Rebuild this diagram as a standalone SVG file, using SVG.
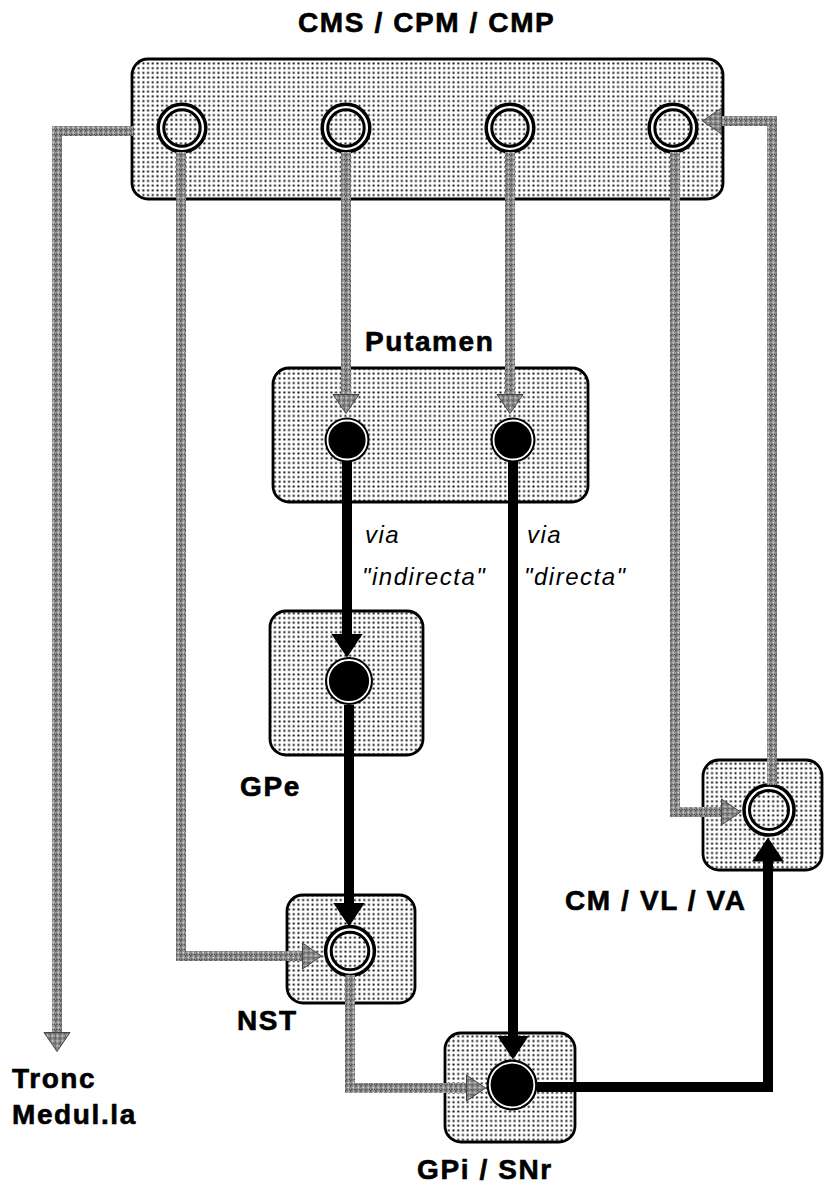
<svg xmlns="http://www.w3.org/2000/svg" width="825" height="1184" viewBox="0 0 825 1184">
<defs>
<pattern id="dots" patternUnits="userSpaceOnUse" width="4.7" height="4.7">
<rect width="4.7" height="4.7" fill="#ffffff"/>
<rect x="1.4" y="1.4" width="1.9" height="1.9" fill="#000"/>
</pattern>
<pattern id="grain" patternUnits="userSpaceOnUse" width="5" height="5">
<rect width="5" height="5" fill="#8e8e8e"/>
<rect x="0" y="0" width="1.5" height="1.5" fill="#4a4a4a"/>
<rect x="2.5" y="2" width="1.5" height="1.5" fill="#d4d4d4"/>
<rect x="1" y="3.5" width="1.5" height="1.5" fill="#5a5a5a"/>
<rect x="3.5" y="0.5" width="1" height="1" fill="#c4c4c4"/>
<rect x="4" y="4" width="1" height="1" fill="#444"/>
</pattern>
<marker id="arrBlack" markerUnits="userSpaceOnUse" viewBox="0 0 24 32" refX="0.5" refY="16" markerWidth="24" markerHeight="32" orient="auto">
<path d="M0,0 L24,16 L0,32 Z" fill="#000"/>
</marker>
<marker id="arrGray" markerUnits="userSpaceOnUse" viewBox="-1 -1 22 28" refX="0.5" refY="13" markerWidth="22" markerHeight="28" orient="auto">
<path d="M0,0 L19,13 L0,26 Z" fill="url(#grain)" stroke="#444" stroke-width="1"/>
</marker>
</defs>
<style>
.box{fill:url(#dots);stroke:#000;stroke-width:2.8}
.lbl{font-family:"Liberation Sans",Arial,Helvetica,sans-serif;font-weight:bold;font-size:28px;letter-spacing:1.6px;fill:#000;stroke:#000;stroke-width:0.6}
.via{font-family:"Liberation Sans",Arial,Helvetica,sans-serif;font-style:italic;font-size:24px;letter-spacing:1.5px;fill:#000}
.ringO{fill:none;stroke:#000;stroke-width:3.5}
.ringW{fill:none;stroke:#fff;stroke-width:3}
.ringI{fill:none;stroke:#000;stroke-width:3}
.fillC{fill:#000}
.fillW{fill:none;stroke:#fff;stroke-width:1.8}
.gray{fill:none;stroke:url(#grain);stroke-width:10;stroke-linejoin:miter;marker-end:url(#arrGray)}
.black{fill:none;stroke:#000;stroke-width:10;stroke-linejoin:miter;marker-end:url(#arrBlack)}
</style>
<rect width="825" height="1184" fill="#ffffff"/>

<g id="cortex">
<rect class="box" x="132" y="59" width="591" height="140" rx="16"/>
<g transform="translate(182,128)"><circle class="ringW" r="21"/><circle class="ringO" r="23.8"/><circle class="ringI" r="18.2"/></g>
<g transform="translate(346,128)"><circle class="ringW" r="21"/><circle class="ringO" r="23.8"/><circle class="ringI" r="18.2"/></g>
<g transform="translate(510,128)"><circle class="ringW" r="21"/><circle class="ringO" r="23.8"/><circle class="ringI" r="18.2"/></g>
<g transform="translate(673,128)"><circle class="ringW" r="21"/><circle class="ringO" r="23.8"/><circle class="ringI" r="18.2"/></g>
<text class="lbl" x="298" y="32">CMS / CPM / CMP</text>
</g>

<g id="putamen">
<rect class="box" x="273" y="368" width="315" height="134" rx="16"/>
<circle class="fillC" cx="347" cy="440" r="22.5"/><circle class="fillW" cx="347" cy="440" r="19.5"/>
<circle class="fillC" cx="513" cy="440" r="22.5"/><circle class="fillW" cx="513" cy="440" r="19.5"/>
<text class="lbl" x="365" y="351">Putamen</text>
</g>

<g id="gpe">
<rect class="box" x="270" y="611" width="153" height="144" rx="16"/>
<circle class="fillC" cx="349" cy="681" r="24"/><circle class="fillW" cx="349" cy="681" r="21"/>
<text class="lbl" x="240" y="796">GPe</text>
</g>

<g id="nst">
<rect class="box" x="287" y="895" width="128" height="108" rx="16"/>
<g transform="translate(350,951)"><circle class="ringW" r="21.6"/><circle class="ringO" r="24.4"/><circle class="ringI" r="18.8"/></g>
<text class="lbl" x="237" y="1030">NST</text>
</g>

<g id="gpi">
<rect class="box" x="445" y="1033" width="130" height="109" rx="16"/>
<circle class="fillC" cx="512" cy="1085" r="25.5"/><circle class="fillW" cx="512" cy="1085" r="22.3"/>
<text class="lbl" x="417" y="1179">GPi / SNr</text>
</g>

<g id="thalamus">
<rect class="box" x="703" y="760" width="119" height="110" rx="16"/>
<g transform="translate(769,810)"><circle class="ringW" r="22.3"/><circle class="ringO" r="25"/><circle class="ringI" r="19.5"/></g>
<text class="lbl" x="565" y="910">CM / VL / VA</text>
</g>

<g id="tronc">
<text class="lbl" x="12" y="1088">Tronc</text>
<text class="lbl" x="12" y="1124">Medul.la</text>
</g>

<g id="labels">
<text class="via" x="365" y="543">via</text>
<text class="via" x="362" y="585">"indirecta"</text>
<text class="via" x="527" y="543">via</text>
<text class="via" x="524" y="585">"directa"</text>
</g>

<g id="connectors">
<path class="gray" d="M181,152 V956 H303"/>
<path class="gray" d="M346,152 V395"/>
<path class="gray" d="M510,152 V395"/>
<path class="gray" d="M675,152 V812 H722"/>
<path class="gray" d="M772,785 V121 H721"/>
<path class="gray" d="M133,131 H57 V1033"/>
<path class="gray" d="M350,975 V1088 H467"/>
<path class="black" d="M347,462 V634"/>
<path class="black" d="M349,705 V903"/>
<path class="black" d="M513,462 V1036"/>
<path class="black" d="M537,1087 H768 V861"/>
</g>
</svg>
